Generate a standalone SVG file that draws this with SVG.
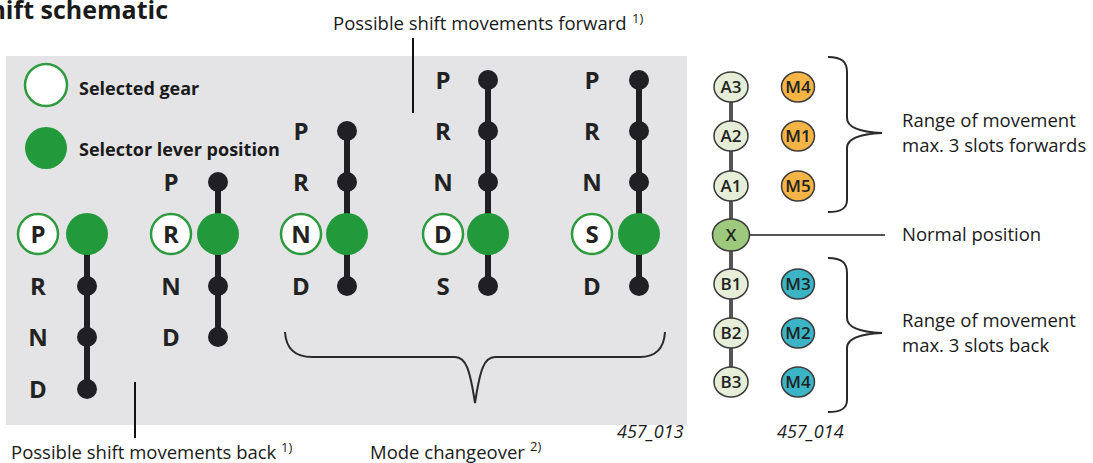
<svg xmlns="http://www.w3.org/2000/svg" width="1093" height="463" viewBox="0 0 1093 463">
<defs>
<style>
text{font-family:"Open Sans","Noto Sans","Liberation Sans",sans-serif;fill:#1a1a1a}
.lbl{font-size:18.5px}
.sup{font-size:13px}
.fig{font-size:18px;font-style:italic}
.b{font-weight:700;font-size:18px}
.g{font-weight:700;font-size:24px;fill:#222;text-anchor:middle}
.hol{fill:#fff;stroke:#2e9a3e;stroke-width:2.5}
.sel{fill:#22993a}
.nd{fill:#1f1f24}
.bar{stroke:#1f1f24;stroke-width:6}
.br{fill:none;stroke:#2a2a2a;stroke-width:2}
.cl{stroke:#111;stroke-width:2}
.el{stroke:#3a3a3a;stroke-width:1.5}
.a{fill:#e6eed8}
.x{fill:#9cc97b}
.o{fill:#f5b445}
.t{fill:#3bb5c6}
.et{font-weight:600;font-size:17px;fill:#222;text-anchor:middle}
</style>
</defs>
<rect x="6" y="56" width="681" height="369" fill="#e4e4e6"/>
<text x="168" y="19" class="b" style="font-size:25px" text-anchor="end">Shift schematic</text>

<g id="legend">
<circle cx="46" cy="85" r="21" class="hol"/>
<text x="79" y="95" class="b">Selected gear</text>
<circle cx="46" cy="148" r="21" class="sel"/>
<text x="79" y="156" class="b">Selector lever position</text>
</g>

<g id="col1">
<line x1="87" y1="234" x2="87" y2="389" class="bar"/>
<circle cx="87" cy="286" r="10" class="nd"/><circle cx="87" cy="337" r="10" class="nd"/><circle cx="87" cy="389" r="10" class="nd"/>
<circle cx="38" cy="234" r="20" class="hol"/><text x="38" y="243" class="g">P</text>
<circle cx="87" cy="234" r="21" class="sel"/>
<text x="38" y="295" class="g">R</text><text x="38" y="346" class="g">N</text><text x="38" y="398" class="g">D</text>
</g>

<g id="col2">
<line x1="218" y1="182" x2="218" y2="337" class="bar"/>
<circle cx="218" cy="182" r="10" class="nd"/><circle cx="218" cy="286" r="10" class="nd"/><circle cx="218" cy="337" r="10" class="nd"/>
<text x="171" y="191" class="g">P</text>
<circle cx="171" cy="234" r="20" class="hol"/><text x="171" y="243" class="g">R</text>
<circle cx="218" cy="234" r="21" class="sel"/>
<text x="171" y="295" class="g">N</text><text x="171" y="346" class="g">D</text>
</g>

<g id="col3">
<line x1="347" y1="131" x2="347" y2="286" class="bar"/>
<circle cx="347" cy="131" r="10" class="nd"/><circle cx="347" cy="182" r="10" class="nd"/><circle cx="347" cy="286" r="10" class="nd"/>
<text x="301" y="140" class="g">P</text><text x="301" y="191" class="g">R</text>
<circle cx="301" cy="234" r="20" class="hol"/><text x="301" y="243" class="g">N</text>
<circle cx="347" cy="234" r="21" class="sel"/>
<text x="301" y="295" class="g">D</text>
</g>

<g id="col4">
<line x1="488" y1="80" x2="488" y2="286" class="bar"/>
<circle cx="488" cy="80" r="10" class="nd"/><circle cx="488" cy="131" r="10" class="nd"/><circle cx="488" cy="182" r="10" class="nd"/><circle cx="488" cy="286" r="10" class="nd"/>
<text x="443" y="89" class="g">P</text><text x="443" y="140" class="g">R</text><text x="443" y="191" class="g">N</text>
<circle cx="443" cy="234" r="20" class="hol"/><text x="443" y="243" class="g">D</text>
<circle cx="488" cy="234" r="21" class="sel"/>
<text x="443" y="295" class="g">S</text>
</g>

<g id="col5">
<line x1="639" y1="80" x2="639" y2="286" class="bar"/>
<circle cx="639" cy="80" r="10" class="nd"/><circle cx="639" cy="131" r="10" class="nd"/><circle cx="639" cy="182" r="10" class="nd"/><circle cx="639" cy="286" r="10" class="nd"/>
<text x="592" y="89" class="g">P</text><text x="592" y="140" class="g">R</text><text x="592" y="191" class="g">N</text>
<circle cx="592" cy="234" r="20" class="hol"/><text x="592" y="243" class="g">S</text>
<circle cx="639" cy="234" r="21" class="sel"/>
<text x="592" y="295" class="g">D</text>
</g>

<g id="connectors">
<line x1="413" y1="38" x2="413" y2="113" class="cl"/>
<line x1="135" y1="382" x2="135" y2="438" class="cl"/>
<path d="M285,332 C286,348 295,357 312,357 L455,357 C466,357 470,370 475,403 C480,370 484,357 495,357 L640,357 C656,357 664,348 665,332" class="br"/>
<line x1="731" y1="87" x2="731" y2="382" stroke="#555" stroke-width="4"/>
<line x1="750" y1="235" x2="885" y2="235" stroke="#555" stroke-width="2"/>
<path d="M828,57 C842,57 847,62 847,72 L847,118 C847,128 860,132 882,133 C860,134 847,138 847,148 L847,200 C847,208 842,212 828,212" class="br"/>
<path d="M828,258 C842,258 847,263 847,273 L847,318 C847,328 860,332 882,333 C860,334 847,338 847,348 L847,400 C847,408 842,412 828,412" class="br"/>
</g>

<g id="labels">
<text x="333" y="30" class="lbl">Possible shift movements forward</text><text x="632" y="23" class="sup">1)</text>
<text x="11" y="459" class="lbl">Possible shift movements back</text><text x="281" y="452" class="sup">1)</text>
<text x="370" y="459" class="lbl">Mode changeover</text><text x="530" y="451" class="sup">2)</text>
<text x="617" y="438" class="fig">457_013</text>
<text x="777" y="438" class="fig">457_014</text>
<text x="902" y="127" class="lbl">Range of movement</text>
<text x="902" y="152" class="lbl">max. 3 slots forwards</text>
<text x="902" y="241" class="lbl">Normal position</text>
<text x="902" y="327" class="lbl">Range of movement</text>
<text x="902" y="352" class="lbl">max. 3 slots back</text>
</g>

<g id="node-A3"><ellipse cx="731" cy="87" rx="17" ry="15" class="el a"/><text x="731" y="93" class="et">A3</text></g>
<g id="node-A2"><ellipse cx="731" cy="136" rx="17" ry="15" class="el a"/><text x="731" y="142" class="et">A2</text></g>
<g id="node-A1"><ellipse cx="731" cy="186" rx="17" ry="15" class="el a"/><text x="731" y="192" class="et">A1</text></g>
<g id="node-X"><ellipse cx="731" cy="235" rx="18.5" ry="16" class="el x"/><text x="731" y="241" class="et">X</text></g>
<g id="node-B1"><ellipse cx="731" cy="284" rx="17" ry="15" class="el a"/><text x="731" y="290" class="et">B1</text></g>
<g id="node-B2"><ellipse cx="731" cy="333" rx="17" ry="15" class="el a"/><text x="731" y="339" class="et">B2</text></g>
<g id="node-B3"><ellipse cx="731" cy="382" rx="17" ry="15" class="el a"/><text x="731" y="388" class="et">B3</text></g>
<g id="node-M4a"><ellipse cx="798" cy="87" rx="16.5" ry="15" class="el o"/><text x="798" y="93" class="et">M4</text></g>
<g id="node-M1"><ellipse cx="798" cy="136" rx="16.5" ry="15" class="el o"/><text x="798" y="142" class="et">M1</text></g>
<g id="node-M5"><ellipse cx="798" cy="186" rx="16.5" ry="15" class="el o"/><text x="798" y="192" class="et">M5</text></g>
<g id="node-M3"><ellipse cx="798" cy="284" rx="16.5" ry="15" class="el t"/><text x="798" y="290" class="et">M3</text></g>
<g id="node-M2"><ellipse cx="798" cy="333" rx="16.5" ry="15" class="el t"/><text x="798" y="339" class="et">M2</text></g>
<g id="node-M4b"><ellipse cx="798" cy="382" rx="16.5" ry="15" class="el t"/><text x="798" y="388" class="et">M4</text></g>
</svg>
